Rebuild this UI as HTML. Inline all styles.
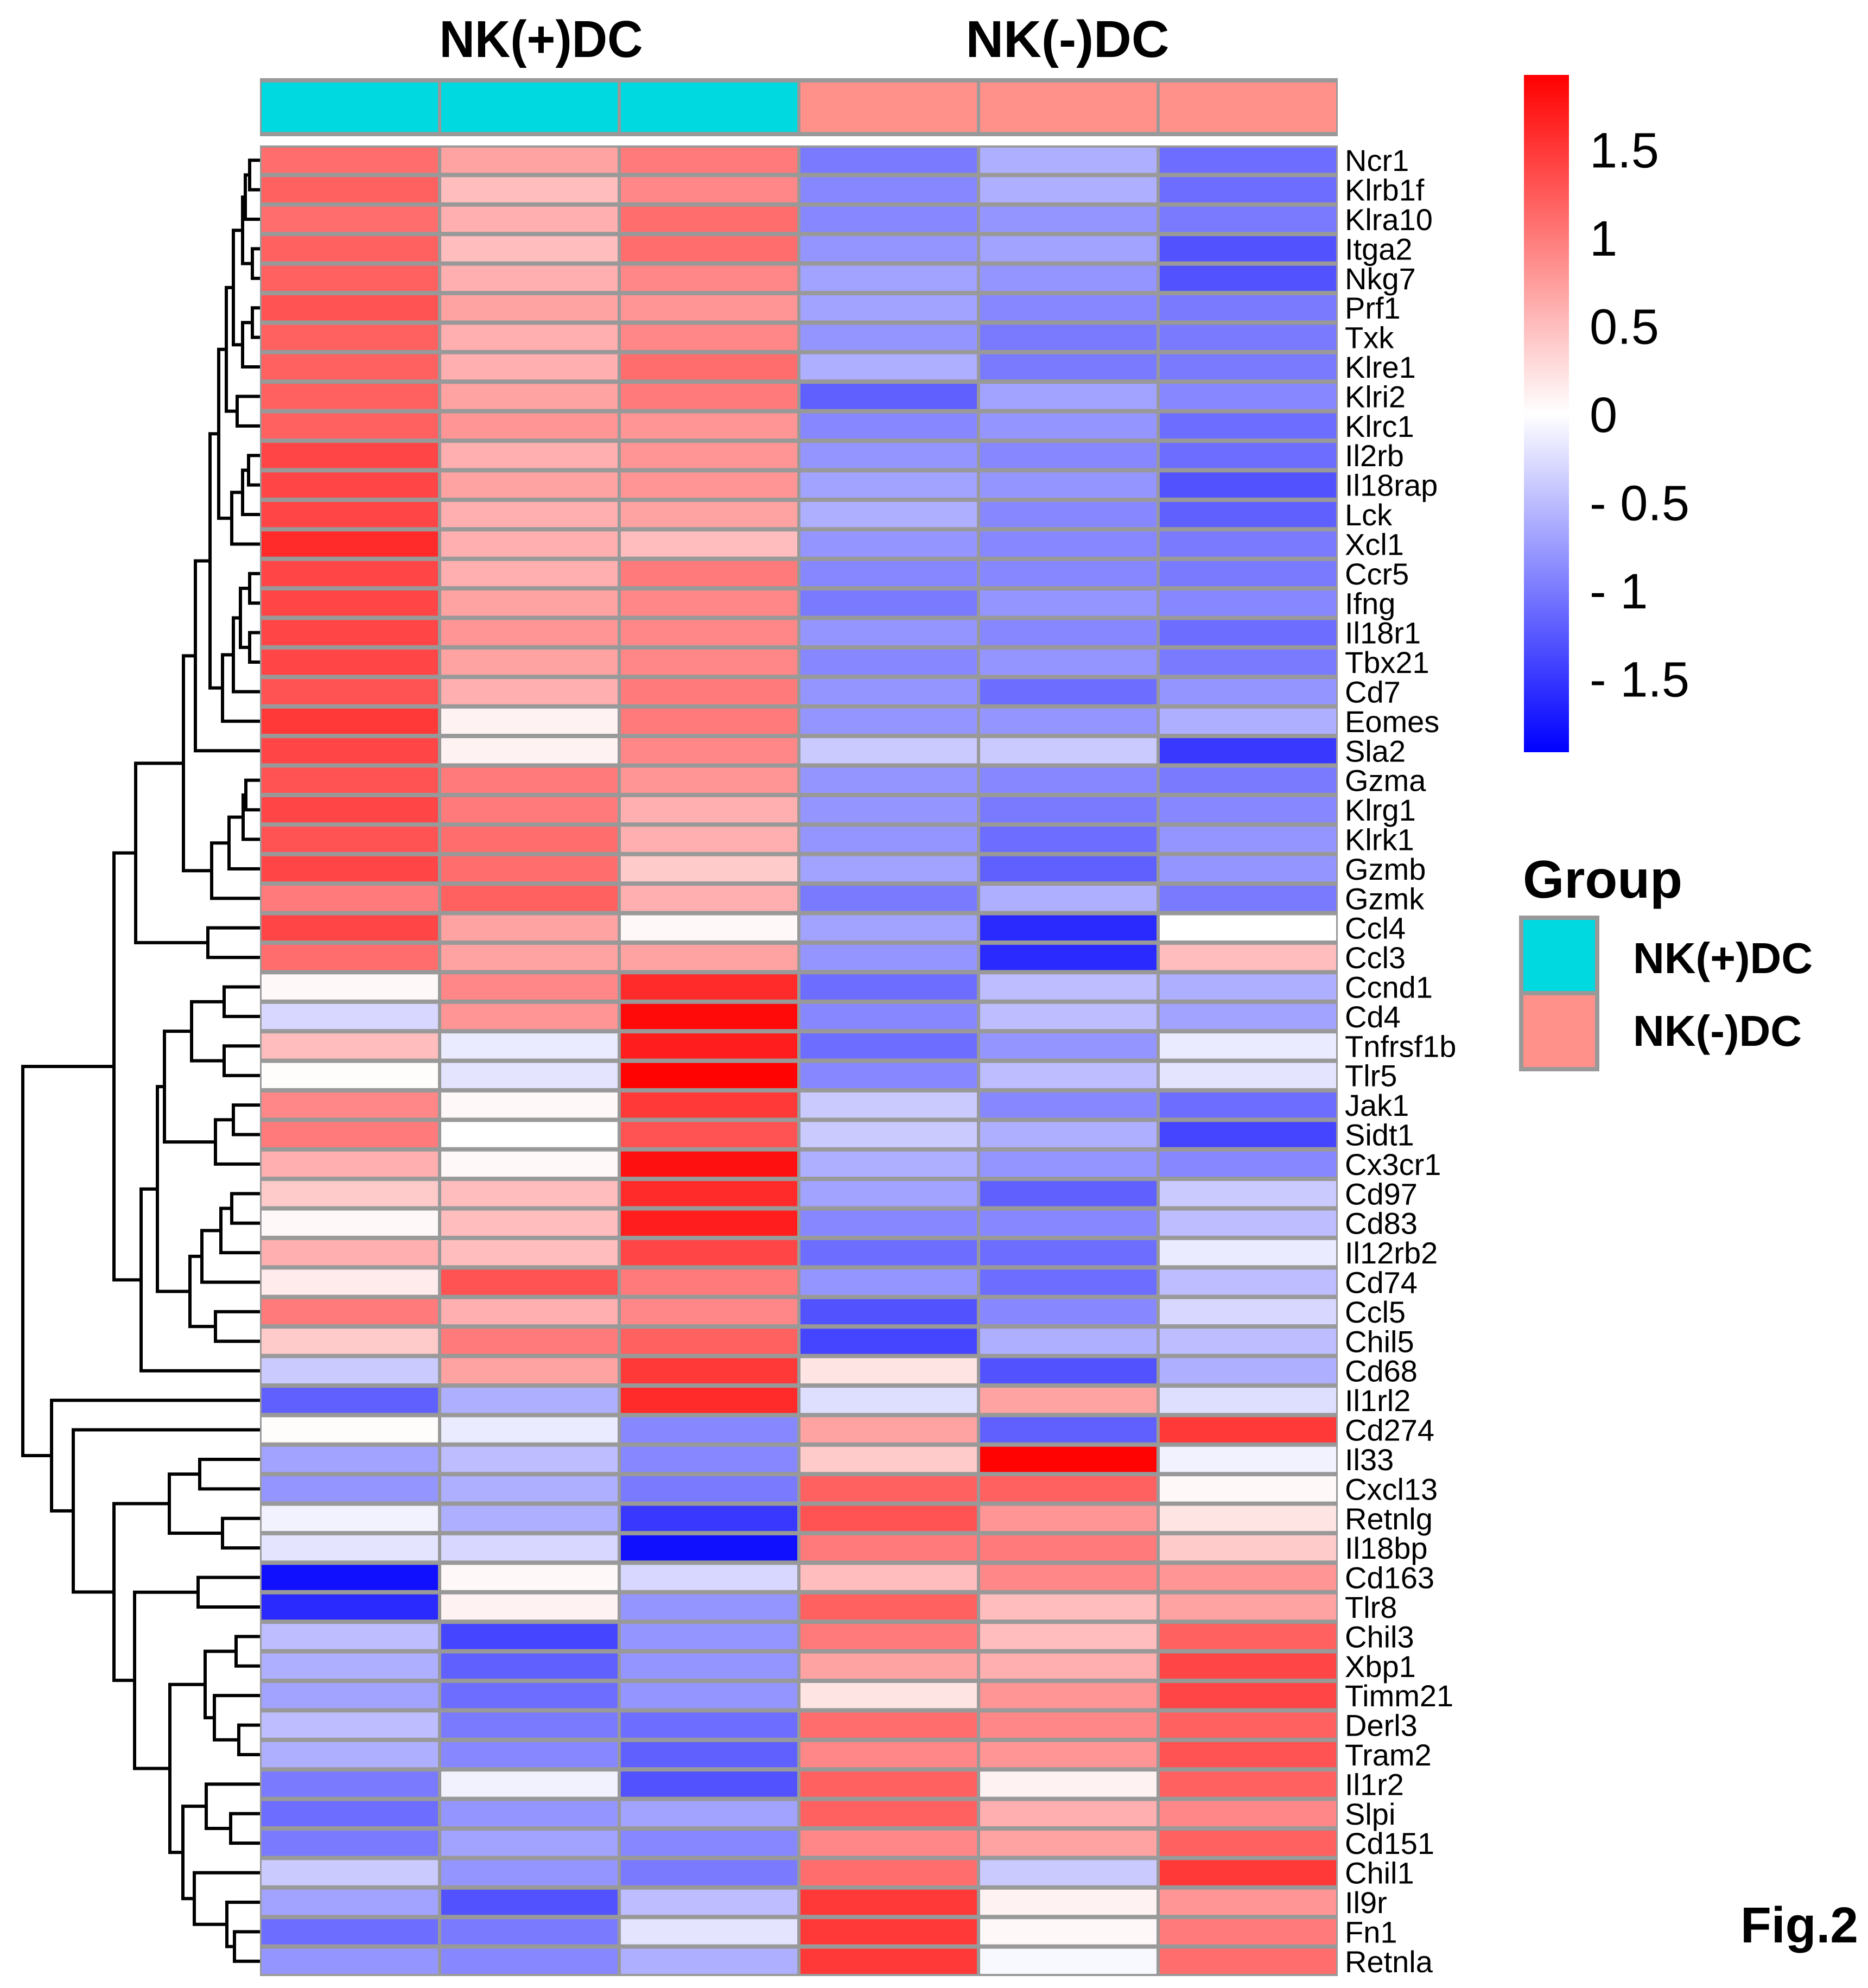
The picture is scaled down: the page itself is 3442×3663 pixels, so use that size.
<!DOCTYPE html>
<html><head><meta charset="utf-8"><style>
html,body{margin:0;padding:0;background:#fff;}
svg{display:block;font-family:"Liberation Sans",Arial,sans-serif;}
</style></head><body>
<svg id="chart" width="3442" height="3663" viewBox="0 0 3442 3663" xmlns="http://www.w3.org/2000/svg">
<defs>
<linearGradient id="cbar" x1="0" y1="0" x2="0" y2="1">
<stop offset="0" stop-color="#ff0000"/><stop offset="0.5" stop-color="#ffffff"/><stop offset="1" stop-color="#0000ff"/>
</linearGradient>
</defs>
<g id="dendro"></g>
<g id="cells"></g>
<g id="annot"></g>
<g id="labels"></g>
<text x="997" y="105" text-anchor="middle" font-size="96" font-weight="bold" textLength="375" lengthAdjust="spacingAndGlyphs">NK(+)DC</text>
<text x="1967" y="105" text-anchor="middle" font-size="96" font-weight="bold" textLength="375" lengthAdjust="spacingAndGlyphs">NK(-)DC</text>
<rect x="2808" y="138" width="83" height="1248" fill="url(#cbar)"/>
<g id="cticks"></g>
<text x="2806" y="1654" font-size="98" font-weight="bold">Group</text>
<rect x="2803" y="1691" width="140" height="139" fill="#00d9e0" stroke="#999" stroke-width="8"/>
<rect x="2803" y="1830" width="140" height="140" fill="#ff918a" stroke="#999" stroke-width="8"/>
<text x="3009" y="1793" font-size="80" font-weight="bold">NK(+)DC</text>
<text x="3009" y="1927" font-size="80" font-weight="bold">NK(-)DC</text>
<text x="3207" y="3579" font-size="93" font-weight="bold">Fig.2</text>
</svg>
<script>
const genes = ["Ncr1","Klrb1f","Klra10","Itga2","Nkg7","Prf1","Txk","Klre1","Klri2","Klrc1","Il2rb","Il18rap","Lck","Xcl1","Ccr5","Ifng","Il18r1","Tbx21","Cd7","Eomes","Sla2","Gzma","Klrg1","Klrk1","Gzmb","Gzmk","Ccl4","Ccl3","Ccnd1","Cd4","Tnfrsf1b","Tlr5","Jak1","Sidt1","Cx3cr1","Cd97","Cd83","Il12rb2","Cd74","Ccl5","Chil5","Cd68","Il1rl2","Cd274","Il33","Cxcl13","Retnlg","Il18bp","Cd163","Tlr8","Chil3","Xbp1","Timm21","Derl3","Tram2","Il1r2","Slpi","Cd151","Chil1","Il9r","Fn1","Retnla"];
const groups = ["NK(+)DC","NK(+)DC","NK(+)DC","NK(-)DC","NK(-)DC","NK(-)DC"];
const values = [
[1.1,0.7,1.0,-1.0,-0.6,-1.1],[1.2,0.5,0.9,-0.9,-0.6,-1.1],[1.1,0.6,1.1,-0.9,-0.8,-1.0],[1.2,0.5,1.1,-0.8,-0.7,-1.3],
[1.2,0.6,0.9,-0.7,-0.8,-1.3],[1.3,0.7,0.8,-0.7,-0.9,-1.0],[1.2,0.6,0.9,-0.8,-1.0,-1.0],[1.2,0.6,1.1,-0.6,-1.0,-1.0],
[1.2,0.7,1.0,-1.2,-0.7,-0.9],[1.2,0.8,0.8,-0.9,-0.8,-1.1],[1.4,0.6,0.8,-0.8,-0.9,-1.1],[1.4,0.7,0.8,-0.7,-0.8,-1.3],
[1.4,0.6,0.7,-0.6,-0.9,-1.2],[1.6,0.6,0.5,-0.8,-0.9,-1.0],[1.4,0.6,1.0,-0.9,-0.9,-1.0],[1.4,0.7,0.9,-1.0,-0.8,-0.9],
[1.4,0.8,0.9,-0.8,-0.9,-1.1],[1.4,0.7,0.9,-0.9,-0.8,-1.0],[1.3,0.6,1.0,-0.8,-1.1,-0.8],[1.5,0.1,1.0,-0.8,-0.8,-0.6],
[1.4,0.1,0.9,-0.4,-0.4,-1.5],[1.3,1.0,0.8,-0.8,-0.9,-1.0],[1.4,1.0,0.6,-0.8,-1.0,-0.9],[1.3,1.1,0.6,-0.8,-1.1,-0.8],
[1.4,1.1,0.4,-0.7,-1.2,-0.8],[1.0,1.2,0.6,-1.0,-0.6,-1.0],[1.4,0.7,0.05,-0.7,-1.6,0.0],[1.1,0.7,0.7,-0.8,-1.6,0.5],
[0.05,0.9,1.6,-1.1,-0.5,-0.6],[-0.3,0.8,1.85,-0.9,-0.5,-0.7],[0.5,-0.15,1.7,-1.1,-0.8,-0.15],[0.02,-0.2,1.9,-0.9,-0.5,-0.2],
[0.9,0.05,1.5,-0.4,-0.9,-1.1],[1.0,0.0,1.3,-0.4,-0.6,-1.4],[0.6,0.05,1.8,-0.6,-0.8,-0.9],[0.4,0.5,1.6,-0.7,-1.2,-0.4],
[0.05,0.5,1.7,-0.9,-0.9,-0.5],[0.6,0.5,1.4,-1.1,-1.1,-0.15],[0.15,1.3,1.0,-0.8,-1.1,-0.5],[1.0,0.6,0.9,-1.3,-0.9,-0.3],
[0.4,1.0,1.2,-1.4,-0.6,-0.5],[-0.4,0.7,1.5,0.2,-1.3,-0.6],[-1.2,-0.6,1.6,-0.25,0.7,-0.25],[0.02,-0.15,-0.9,0.7,-1.2,1.5],
[-0.7,-0.5,-0.9,0.4,1.9,-0.1],[-0.8,-0.6,-1.0,1.2,1.2,0.05],[-0.1,-0.6,-1.5,1.3,0.8,0.2],[-0.2,-0.3,-1.8,1.0,1.0,0.4],
[-1.8,0.05,-0.3,0.5,0.9,0.8],[-1.6,0.1,-0.8,1.2,0.5,0.7],[-0.5,-1.4,-0.8,1.0,0.5,1.2],[-0.6,-1.2,-0.8,0.7,0.6,1.4],
[-0.7,-1.1,-0.8,0.2,0.8,1.4],[-0.5,-1.0,-1.1,1.1,0.9,1.2],[-0.6,-0.9,-1.2,0.9,0.8,1.3],[-1.0,-0.1,-1.3,1.2,0.1,1.2],
[-1.1,-0.8,-0.7,1.2,0.6,0.9],[-1.0,-0.7,-0.9,0.9,0.7,1.2],[-0.4,-0.8,-1.0,1.1,-0.4,1.5],[-0.7,-1.3,-0.5,1.5,0.1,0.8],
[-1.1,-1.0,-0.2,1.5,0.05,1.0],[-0.8,-0.9,-0.6,1.5,-0.05,1.1]];
const scaleTicks = [1.5,1,0.5,0,-0.5,-1,-1.5];
const tickLabels = ["1.5","1","0.5","0","- 0.5","- 1","- 1.5"];
// dendrogram merges: [height, left, right]; leaves are row indices
const tree = [42,
 [210,
  [250,
   [338,
    [360,
     [387,
      [403,
       [417,
        [430,[447,[452,[460,0,1],2],[465,3,4]],[447,[465,5,6],7]],
        [437,8,9]],
       [427,[447,[458,10,11],12],13]],
      [410,[430,[443,[460,14,15],[460,16,17]],18],19]],
     20],
    [390,[422,[448,[453,21,22],23],24],25]],
   [383,26,27]],
  [260,
   [290,
    [303,[353,[413,28,29],[413,30,31]],[397,[430,32,33],34]],
    [350,[372,[407,[427,35,36],37],38],[397,39,40]]],
   41]],
 [95,42,
  [135,43,
   [210,
    [312,[368,44,45],[410,46,47]],
    [248,[365,48,49],
     [313,
      [378,[435,50,51],[395,52,[440,53,54]]],
      [337,[380,55,[425,56,57]],[358,58,[418,59,[432,60,61]]]]]]]]]];

const NS="http://www.w3.org/2000/svg";
const X0=479, CW=331, Y0=268, RH=(3641-268)/62, LEAFX=479;
const VMAX=1.92;
function colX(j){return X0+j*CW;}
function rowY(i){return Y0+i*RH;}
function color(v){
  let t=Math.max(-1,Math.min(1,v/VMAX));
  let r,g,b;
  if(t>=0){r=255;g=Math.round(255*(1-t));b=g;}else{b=255;r=Math.round(255*(1+t));g=r;}
  return `rgb(${r},${g},${b})`;
}
function scaleY(v){return 762 - v*(1248/(2*VMAX));}
function mk(tag,attrs,parent){const e=document.createElementNS(NS,tag);for(const k in attrs)e.setAttribute(k,attrs[k]);parent.appendChild(e);return e;}

const cells=document.getElementById('cells');
mk('rect',{x:X0,y:Y0,width:CW*6,height:RH*62,fill:'#999'},cells);
values.forEach((row,i)=>{row.forEach((v,j)=>{
  const r=mk('rect',{x:colX(j)+3,y:rowY(i)+4,width:CW-6,height:RH-8,fill:color(v)},cells);
  
  
});});

const annot=document.getElementById('annot');
mk('rect',{x:X0,y:144,width:CW*6,height:107,fill:'#999'},annot);
groups.forEach((g,j)=>{
  const r=mk('rect',{x:colX(j)+3,y:152,width:CW-6,height:91,fill:g==="NK(+)DC"?'#00d9e0':'#ff918a'},annot);
  
  
});

const labels=document.getElementById('labels');
genes.forEach((g,i)=>{
  const t=mk('text',{x:2478,y:rowY(i)+RH/2+20,'font-size':56},labels);
  t.textContent=g;
  
  
});

const ct=document.getElementById('cticks');
scaleTicks.forEach((v,k)=>{
  const t=mk('text',{x:2929,y:scaleY(v)+34,'font-size':92},ct);
  t.textContent=tickLabels[k];
  
  
});

const dg=document.getElementById('dendro');
function draw(node){
  if(typeof node==='number') return {x:LEAFX,y:rowY(node)+RH/2};
  const [h,l,r]=node;
  const a=draw(l), b=draw(r);
  const p=mk('path',{d:`M${a.x},${a.y}H${h}V${b.y}H${b.x}`,fill:'none',stroke:'#000','stroke-width':6},dg);
  
  
  return {x:h,y:(a.y+b.y)/2};
}
draw(tree);
</script>
</body></html>
